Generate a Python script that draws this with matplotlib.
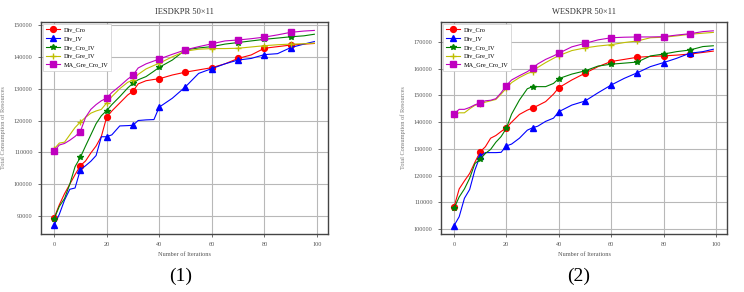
import matplotlib
matplotlib.use('Agg')
import matplotlib.pyplot as plt

iters = [0, 2, 4, 6, 8, 10, 12, 14, 16, 18, 20, 22, 25, 28, 30, 32, 35, 38, 40,
         45, 50, 55, 60, 65, 70, 75, 80, 85, 90, 95, 99]

labels = ['Div_Cro', 'Div_IV', 'Div_Cro_IV', 'Div_Gre_IV', 'MA_Gre_Cro_IV']

# (1) IESDKPR 50x11
ies_cro = [89300, 93500, 97000, 100000, 103000, 105800, 107300, 109800, 112000, 115000,
           121000, 123000, 125500, 128000, 129200, 131500, 132500, 132900, 133100,
           134300, 135200, 135900, 136600, 137800, 139500, 140600, 142700, 143200,
           143700, 144000, 144200]
ies_iv = [87100, 90500, 95000, 98400, 98800, 104500, 105800, 107200, 109000, 114900,
          114900, 115500, 118300, 118400, 118500, 120000, 120200, 120300, 124200,
          127000, 130600, 134800, 136300, 137800, 139000, 139500, 140700, 141000,
          142900, 144000, 144800]
ies_cro_iv = [89000, 93000, 95500, 100000, 105500, 108400, 112000, 115500, 119000, 121500,
              123100, 125000, 127500, 130200, 131700, 132800, 133800, 135500, 136700,
              139000, 142200, 142800, 143200, 144000, 144500, 145000, 145500, 145900,
              146300, 146600, 147100]
ies_gre_iv = [111000, 112900, 113200, 115500, 117800, 119500, 121000, 122300, 123000, 123500,
              125500, 127500, 130000, 132000, 132700, 134500, 136200, 137300, 138000,
              140000, 141800, 142400, 142600, 142600, 142700, 143100, 143500, 143800,
              144000, 144100, 144300]
ies_ma = [110300, 112300, 112800, 113800, 115000, 116500, 121000, 123500, 125000, 126200,
          127000, 128800, 130800, 133000, 134200, 136500, 137800, 138700, 139300,
          140800, 142200, 143200, 144100, 145000, 145300, 145700, 146200, 146900,
          147700, 148100, 148300]

# (2) WESDKPR 50x11
wes_cro = [108100, 115000, 118000, 120800, 125000, 128900, 130800, 134000, 135000, 136500,
           137900, 140000, 142900, 144500, 145300, 146200, 147700, 150500, 152900,
           155800, 158300, 160800, 162700, 163500, 164300, 164600, 164800, 165100,
           165500, 166100, 166600]
wes_iv = [101200, 104600, 111500, 114800, 122100, 127300, 128600, 128600, 128600, 128700,
          131100, 131800, 134000, 137000, 137900, 138500, 140300, 141500, 143900,
          146400, 147900, 151000, 153900, 156400, 158500, 160800, 162300, 163900,
          165800, 166400, 167300]
wes_cro_iv = [107700, 112000, 115000, 119000, 124500, 126100, 128300, 129800, 132500, 134600,
              137700, 143000, 148300, 152500, 153300, 153300, 153300, 154500, 156300,
              158000, 159200, 161000, 161700, 162100, 162500, 164800, 165500, 166400,
              167000, 168300, 168600]
wes_gre_iv = [142700, 143500, 143500, 145000, 146300, 146800, 147500, 148000, 148500, 150500,
              152700, 154800, 156700, 158200, 158900, 160500, 162300, 163900, 164900,
              166800, 167800, 168500, 169000, 169800, 170400, 171600, 171800, 172300,
              172900, 173300, 173600]
wes_ma = [143100, 144800, 144800, 145500, 146500, 147200, 148000, 148200, 148800, 151000,
          153700, 155800, 157400, 158900, 160200, 161800, 163500, 164800, 165800,
          168200, 169500, 170800, 171600, 171800, 171900, 171900, 172000, 172600,
          173100, 173900, 174200]

styles = [('r', 'o'), ('b', '^'), ('g', '*'), ('y', '+'), ('m', 's')]
marks = [i for i, x in enumerate(iters) if x % 10 == 0]

plt.rcParams['font.family'] = ['Liberation Serif', 'DejaVu Serif']

fig = plt.figure(figsize=(7.44, 2.92), dpi=100)
ax1 = fig.add_axes([0.0551, 0.1986, 0.3858, 0.726])
ax2 = fig.add_axes([0.5927, 0.1986, 0.3844, 0.726])

panels = [
    (ax1, 'IESDKPR 50×11', [ies_cro, ies_iv, ies_cro_iv, ies_gre_iv, ies_ma],
     (84350, 150940), range(90000, 150001, 10000)),
    (ax2, 'WESDKPR 50×11', [wes_cro, wes_iv, wes_cro_iv, wes_gre_iv, wes_ma],
     (98130, 177490), range(100000, 170001, 10000)),
]

for ax, title, series, ylim, yticks in panels:
    for vals, lab, (c, m) in zip(series, labels, styles):
        ax.plot(iters, vals, color=c, marker=m, markevery=marks, markersize=4.2,
                linewidth=0.8, label=lab)
    ax.set_xlim(-4.95, 104.2)
    ax.set_ylim(*ylim)
    ax.set_xticks(range(0, 101, 20))
    ax.set_yticks(list(yticks))
    ax.grid(True, color='#b8b8b8', linewidth=0.8)
    ax.set_axisbelow(True)
    ax.tick_params(labelsize=4.5, colors='#555555', length=2.5, width=0.6)
    for sp in ax.spines.values():
        sp.set_color('#444444')
        sp.set_linewidth(1.0)
    ax.set_title(title, fontsize=6, color='#333333', pad=6)
    ax.set_xlabel('Number of Iterations', fontsize=4.5, color='#555555', labelpad=3)
    ax.set_ylabel('Total Consumption of Resources', fontsize=4.5, color='#777777', labelpad=6)
    leg = ax.legend(loc='upper left', fontsize=4.5, handlelength=2.2, borderpad=0.5,
                    labelspacing=0.55, handletextpad=0.6, framealpha=1,
                    edgecolor='#cccccc', fancybox=False, borderaxespad=0.3)
    leg.get_frame().set_linewidth(0.5)

fig.text(0.2425, 0.055, '(1)', ha='center', va='center', fontsize=14)
fig.text(0.778, 0.055, '(2)', ha='center', va='center', fontsize=14)

fig.savefig('out.png', dpi=100)
